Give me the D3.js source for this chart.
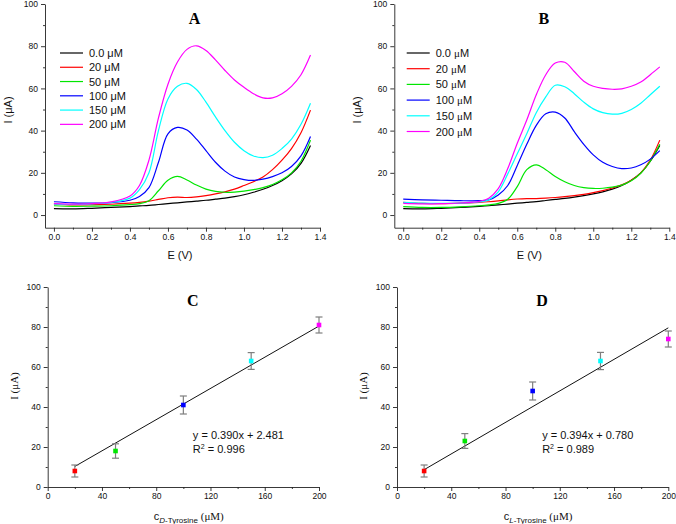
<!DOCTYPE html>
<html>
<head>
<meta charset="utf-8">
<script src="https://cdn.jsdelivr.net/npm/d3@7"></script>
<style>
  body { margin: 0; background: #fff; }
  svg { display: block; }
</style>
</head>
<body>
<div id="chart"></div>
<script>
// potentials (V) at which the voltammograms were read
const potentials = [0, 0.1, 0.2, 0.3, 0.4, 0.45, 0.5, 0.55, 0.6, 0.65, 0.7, 0.75, 0.8, 0.85, 0.9, 0.95, 1.0, 1.05, 1.1, 1.15, 1.2, 1.25, 1.3, 1.35];
const concLabels = ["0.0 μM", "20 μM", "50 μM", "100 μM", "150 μM", "200 μM"];
const seriesColors = ["#000000", "#ff0000", "#00e600", "#0000ff", "#00ffff", "#ff00ff"];

// panel A (D-tyrosine), current in uA
const cvA_0   = [3.0, 2.9, 3.2, 3.6, 4.0, 4.3, 4.6, 5.0, 5.4, 5.8, 6.2, 6.6, 7.0, 7.5, 8.0, 8.7, 9.6, 10.8, 12.2, 14.0, 16.3, 19.5, 24.5, 33.0];
const cvA_20  = [5.3, 4.8, 4.9, 5.1, 5.6, 6.0, 6.6, 7.4, 8.2, 8.5, 8.3, 8.6, 9.2, 10.0, 11.0, 12.3, 14.0, 15.8, 18.0, 21.5, 26.0, 31.5, 39.0, 49.7];
const cvA_50  = [4.4, 4.1, 4.2, 4.4, 4.9, 5.4, 6.8, 11.5, 16.5, 18.3, 16.6, 14.2, 12.3, 11.2, 10.8, 10.9, 11.3, 12.0, 13.0, 14.5, 16.7, 20.0, 25.5, 35.5];
const cvA_100 = [6.3, 5.8, 5.6, 5.9, 7.0, 8.8, 13.0, 25.0, 38.5, 41.5, 40.3, 36.0, 30.5, 25.0, 20.8, 18.0, 16.8, 16.4, 17.0, 18.2, 20.0, 23.0, 28.0, 37.2];
const cvA_150 = [5.2, 5.0, 5.3, 6.0, 8.0, 12.0, 20.0, 40.0, 55.0, 61.0, 62.4, 59.5, 53.5, 46.5, 40.0, 34.5, 30.5, 28.0, 27.2, 28.3, 31.5, 36.0, 43.0, 53.0];
const cvA_200 = [5.4, 5.2, 5.4, 6.2, 9.0, 14.0, 26.0, 46.0, 62.0, 72.5, 78.5, 80.2, 78.0, 73.5, 68.5, 64.0, 60.5, 57.5, 55.5, 55.5, 57.5, 61.0, 66.5, 75.8];

// panel B (L-tyrosine)
const cvB_0   = [3.0, 2.9, 3.2, 3.6, 4.1, 4.4, 4.8, 5.2, 5.6, 6.0, 6.4, 6.9, 7.4, 7.9, 8.5, 9.2, 10.0, 11.0, 12.3, 14.0, 16.5, 20.0, 25.5, 33.0];
const cvB_20  = [6.0, 5.5, 5.4, 5.6, 6.0, 6.3, 6.7, 7.2, 7.6, 7.8, 7.8, 8.0, 8.3, 8.7, 9.2, 9.8, 10.6, 11.6, 12.8, 14.3, 16.5, 20.0, 26.0, 35.5];
const cvB_50  = [4.0, 3.6, 3.6, 3.9, 4.4, 4.8, 5.5, 7.5, 13.5, 21.5, 23.8, 21.5, 18.3, 15.8, 14.0, 13.0, 12.6, 12.7, 13.2, 14.2, 16.2, 19.8, 25.5, 33.5];
const cvB_100 = [7.5, 7.2, 7.0, 6.8, 6.8, 7.2, 9.5, 14.0, 23.5, 33.5, 42.5, 48.0, 48.8, 46.0, 39.5, 33.5, 28.5, 25.0, 23.0, 22.0, 22.3, 23.8, 26.5, 30.5];
const cvB_150 = [6.0, 5.6, 5.5, 5.6, 6.2, 7.2, 11.0, 19.5, 29.0, 38.5, 48.5, 56.0, 61.5, 60.8, 57.5, 53.5, 50.3, 48.5, 47.8, 48.2, 50.0, 53.0, 57.0, 61.0];
const cvB_200 = [5.5, 5.3, 5.4, 5.7, 6.5, 8.0, 12.5, 22.0, 34.0, 45.0, 57.0, 66.5, 72.0, 72.4, 68.0, 63.4, 61.0, 60.0, 59.6, 59.8, 61.0, 63.0, 66.5, 70.2];

// calibration
const concentrations = [20, 50, 100, 150, 200];
const peakD = [8, 18, 41, 63, 81];
const errD  = [3, 3.6, 4.5, 4.2, 4];
const peakL = [8, 23, 48, 63, 74];
const errL  = [3, 3.7, 4.5, 4.3, 4];
const fitD = [0.390, 2.481];   // slope, intercept
const fitL = [0.394, 0.780];
const r2D = "0.996";
const r2L = "0.989";

const cvTicksX = [0, 0.2, 0.4, 0.6, 0.8, 1.0, 1.2, 1.4];
const cvMinorX = [0.1, 0.3, 0.5, 0.7, 0.9, 1.1, 1.3];
const cvTicksY = [0, 20, 40, 60, 80, 100];
const cvMinorY = [10, 30, 50, 70, 90];
const calTicksX = [0, 40, 80, 120, 160, 200];
const calMinorX = [20, 60, 100, 140, 180];

const sans = "'Liberation Sans', Arial, sans-serif";
const serif = "'Liberation Serif', 'Times New Roman', serif";

let svg = d3.select("#chart").append("svg")
  .attr("width", 676)
  .attr("height", 524);

function drawAxes(x, y, tx, ty, mx, my, fmtX)
{
  let gx = svg.append("g").attr("transform", "translate(0," + y.range()[0] + ")");
  gx.call(d3.axisBottom(x).tickValues(tx).tickSize(4).tickSizeOuter(0).tickPadding(2).tickFormat(fmtX));
  gx.append("g").call(d3.axisBottom(x).tickValues(mx).tickSize(2).tickFormat(""))
    .select(".domain").remove();

  let gy = svg.append("g").attr("transform", "translate(" + x.range()[0] + ",0)");
  gy.call(d3.axisLeft(y).tickValues(ty).tickSize(4).tickSizeOuter(0).tickPadding(3).tickFormat(d3.format("d")));
  gy.append("g").call(d3.axisLeft(y).tickValues(my).tickSize(2).tickFormat(""))
    .select(".domain").remove();

  [gx, gy].forEach(function(g) {
    g.selectAll("path, line").attr("stroke", "#222").attr("stroke-width", 0.9);
    g.selectAll("text").attr("font-family", sans).attr("font-size", "8.5px").attr("fill", "#111");
  });
}

function drawCV(x0, title, series, legendX, legendY, legendStep, serifMu)
{
  let x = d3.scaleLinear().domain([-0.047, 1.4]).range([x0, x0 + 275]);
  let y = d3.scaleLinear().domain([-6, 100]).range([227.7, 4]);

  drawAxes(x, y, cvTicksX, cvTicksY, cvMinorX, cvMinorY, d3.format(".1f"));

  let line = d3.line()
    .x(function(d, i) { return x(potentials[i]); })
    .y(function(d) { return y(d); })
    .curve(d3.curveCatmullRom.alpha(0.5));

  svg.append("g").selectAll("path")
    .data(series)
    .enter()
    .append("path")
    .attr("d", function(d) { return line(d); })
    .attr("fill", "none")
    .attr("stroke", function(d, i) { return seriesColors[i]; })
    .attr("stroke-width", 1.2);

  // legend
  let lg = svg.append("g");
  concLabels.forEach(function(lab, i) {
    let ly = legendY + i * legendStep;
    lg.append("line")
      .attr("x1", legendX).attr("x2", legendX + 23)
      .attr("y1", ly).attr("y2", ly)
      .attr("stroke", seriesColors[i]).attr("stroke-width", 1.2);
    let t = lg.append("text")
      .attr("x", legendX + 29).attr("y", ly)
      .attr("dominant-baseline", "central")
      .attr("font-family", sans).attr("font-size", "11px").attr("fill", "#111");
    let parts = lab.split("μ");
    t.append("tspan").text(parts[0]);
    t.append("tspan").text("μ").attr("font-family", serifMu ? serif : sans);
    t.append("tspan").text(parts[1]);
  });

  svg.append("text")
    .attr("x", x(0.74)).attr("y", 24)
    .attr("text-anchor", "middle")
    .attr("font-family", serif).attr("font-weight", "bold").attr("font-size", "16px")
    .text(title);

  svg.append("text")
    .attr("x", x0 + 135).attr("y", 255)
    .attr("text-anchor", "middle").attr("dominant-baseline", "central")
    .attr("font-family", sans).attr("font-size", "11px").attr("fill", "#111")
    .text("E (V)");

  svg.append("text")
    .attr("transform", "translate(" + (x0 - 37) + ",110) rotate(-90)")
    .attr("text-anchor", "middle").attr("dominant-baseline", "central")
    .attr("font-family", sans).attr("font-size", "11px").attr("fill", "#111")
    .text("I (μA)");
}

function drawCal(x0, title, peaks, errs, fit, r2, enantiomer)
{
  let x = d3.scaleLinear().domain([0, 200]).range([x0, x0 + 271.3]);
  let y = d3.scaleLinear().domain([0, 100]).range([487, 287]);

  drawAxes(x, y, calTicksX, cvTicksY, calMinorX, cvMinorY, d3.format("d"));

  // fit line
  svg.append("line")
    .attr("x1", x(20)).attr("y1", y(fit[0] * 20 + fit[1]))
    .attr("x2", x(200)).attr("y2", y(fit[0] * 200 + fit[1]))
    .attr("stroke", "#111").attr("stroke-width", 1);

  let data = concentrations.map(function(c, i) { return [c, peaks[i], errs[i], seriesColors[i + 1]]; });

  let eb = svg.append("g").attr("stroke", "#7f7f7f").attr("stroke-width", 1.2);
  eb.selectAll(".v").data(data).enter().append("line")
    .attr("x1", function(d) { return x(d[0]); }).attr("x2", function(d) { return x(d[0]); })
    .attr("y1", function(d) { return y(d[1] - d[2]); }).attr("y2", function(d) { return y(d[1] + d[2]); });
  eb.selectAll(".top").data(data).enter().append("line")
    .attr("x1", function(d) { return x(d[0]) - 3.5; }).attr("x2", function(d) { return x(d[0]) + 3.5; })
    .attr("y1", function(d) { return y(d[1] + d[2]); }).attr("y2", function(d) { return y(d[1] + d[2]); });
  eb.selectAll(".bot").data(data).enter().append("line")
    .attr("x1", function(d) { return x(d[0]) - 3.5; }).attr("x2", function(d) { return x(d[0]) + 3.5; })
    .attr("y1", function(d) { return y(d[1] - d[2]); }).attr("y2", function(d) { return y(d[1] - d[2]); });

  svg.append("g").selectAll("rect")
    .data(data)
    .enter()
    .append("rect")
    .attr("x", function(d) { return x(d[0]) - 2.3; })
    .attr("y", function(d) { return y(d[1]) - 2.3; })
    .attr("width", 4.6).attr("height", 4.6)
    .attr("fill", function(d) { return d[3]; });

  svg.append("text")
    .attr("x", x(107)).attr("y", 306)
    .attr("text-anchor", "middle")
    .attr("font-family", serif).attr("font-weight", "bold").attr("font-size", "16px")
    .text(title);

  let eq = svg.append("g").attr("font-family", sans).attr("font-size", "11px").attr("fill", "#111");
  eq.append("text").attr("x", x(107)).attr("y", 439)
    .text("y = " + fit[0].toFixed(3) + "x + " + fit[1].toFixed(3));
  let rt = eq.append("text").attr("x", x(107)).attr("y", 452.5);
  rt.append("tspan").text("R");
  rt.append("tspan").text("2").attr("font-size", "7px").attr("dy", -4);
  rt.append("tspan").text(" = " + r2).attr("dy", 4);

  // x label: c with subscripted enantiomer
  let xl = svg.append("text")
    .attr("x", x(104)).attr("y", 520)
    .attr("text-anchor", "middle")
    .attr("fill", "#111");
  xl.append("tspan").text("c").attr("font-family", sans).attr("font-size", "11px");
  xl.append("tspan").text(enantiomer).attr("font-family", sans).attr("font-style", "italic")
    .attr("font-size", "8px").attr("dy", 3);
  xl.append("tspan").text("-Tyrosine").attr("font-family", sans).attr("font-size", "8px");
  xl.append("tspan").text(" (μM)").attr("font-family", serif).attr("font-size", "11px").attr("dy", -3);

  svg.append("text")
    .attr("transform", "translate(" + (x0 - 34) + ",386) rotate(-90)")
    .attr("text-anchor", "middle").attr("dominant-baseline", "central")
    .attr("font-family", serif).attr("font-size", "11px").attr("fill", "#111")
    .text("I (μA)");
}

drawCV(45, "A", [cvA_0, cvA_20, cvA_50, cvA_100, cvA_150, cvA_200], 60, 53, 14.27, false);
drawCV(394.3, "B", [cvB_0, cvB_20, cvB_50, cvB_100, cvB_150, cvB_200], 406.7, 53, 15.7, true);
drawCal(47.7, "C", peakD, errD, fitD, r2D, "D");
drawCal(397, "D", peakL, errL, fitL, r2L, "L");
</script>
</body>
</html>
